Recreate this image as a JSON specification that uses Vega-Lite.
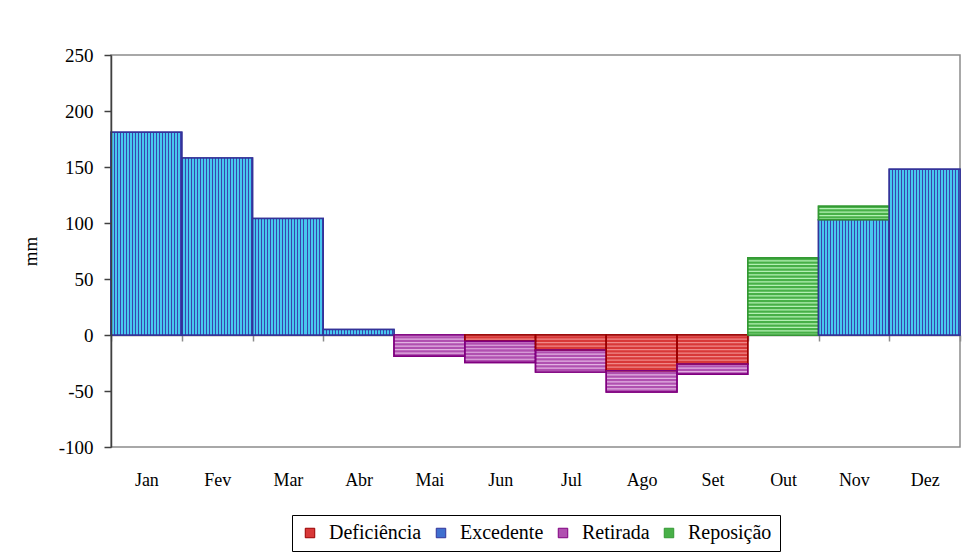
{
  "$schema": "https://vega.github.io/schema/vega-lite/v6.json",
  "width": 849,
  "height": 392,
  "autosize": {"type": "none"},
  "padding": {"left": 111, "top": 55, "right": 3, "bottom": 105},
  "background": "white",
  "config": {
    "view": {"stroke": "#8c8c8c", "strokeWidth": 1.5},
    "font": "Liberation Serif, serif",
    "axis": {"labelFont": "Liberation Serif, serif", "titleFont": "Liberation Serif, serif"},
    "legend": {"labelFont": "Liberation Serif, serif", "titleFont": "Liberation Serif, serif"},
    "text": {"font": "Liberation Serif, serif"}
  },
  "data": {
    "values": [
      {"month": "Jan", "serie": "Excedente", "value": 181},
      {"month": "Fev", "serie": "Excedente", "value": 158},
      {"month": "Mar", "serie": "Excedente", "value": 104},
      {"month": "Abr", "serie": "Excedente", "value": 5},
      {"month": "Mai", "serie": "Retirada", "value": -19},
      {"month": "Jun", "serie": "Deficiência", "value": -5.5},
      {"month": "Jun", "serie": "Retirada", "value": -19},
      {"month": "Jul", "serie": "Deficiência", "value": -13.5},
      {"month": "Jul", "serie": "Retirada", "value": -19.5},
      {"month": "Ago", "serie": "Deficiência", "value": -32},
      {"month": "Ago", "serie": "Retirada", "value": -19},
      {"month": "Set", "serie": "Deficiência", "value": -26},
      {"month": "Set", "serie": "Retirada", "value": -9},
      {"month": "Out", "serie": "Reposição", "value": 69},
      {"month": "Nov", "serie": "Excedente", "value": 103},
      {"month": "Nov", "serie": "Reposição", "value": 12},
      {"month": "Dez", "serie": "Excedente", "value": 148}
    ]
  },
  "transform": [
    {"stack": "value", "groupby": ["month"], "sort": [{"field": "serie", "order": "ascending"}], "as": ["v0", "v1"]}
  ],
  "encoding": {
    "x": {
      "field": "month",
      "type": "nominal",
      "sort": ["Jan", "Fev", "Mar", "Abr", "Mai", "Jun", "Jul", "Ago", "Set", "Out", "Nov", "Dez"],
      "scale": {"paddingInner": 0, "paddingOuter": 0},
      "axis": {
        "orient": "bottom",
        "offset": -112,
        "title": null,
        "labelAngle": 0,
        "labelFont": "Liberation Serif, serif",
        "labelFontSize": 18,
        "labelColor": "black",
        "labelPadding": 130,
        "tickBand": "extent",
        "tickSize": 6,
        "tickColor": "#8c8c8c",
        "tickWidth": 1.5,
        "domainColor": "#707070",
        "domainWidth": 1.5,
        "grid": false
      }
    },
    "y": {
      "field": "v0",
      "type": "quantitative",
      "scale": {"domain": [-100, 250], "nice": false, "zero": false},
      "axis": {
        "title": "mm",
        "titleFont": "Liberation Serif, serif",
        "titleFontSize": 19,
        "titleFontWeight": "normal",
        "titleColor": "black",
        "titlePadding": 18,
        "values": [-100, -50, 0, 50, 100, 150, 200, 250],
        "labelExpr": "'' + datum.value",
        "labelFont": "Liberation Serif, serif",
        "labelFontSize": 19,
        "labelColor": "black",
        "labelPadding": 11,
        "tickSize": 7,
        "tickColor": "#404040",
        "tickWidth": 1.5,
        "domainColor": "#404040",
        "domainWidth": 1.5,
        "grid": false,
        "zindex": 1
      }
    },
    "y2": {"field": "v1"}
  },
  "layer": [
    {
      "mark": {"type": "bar", "strokeWidth": 1.5},
      "encoding": {
        "color": {
          "field": "serie",
          "type": "nominal",
          "scale": {
            "domain": ["Deficiência", "Excedente", "Retirada", "Reposição"],
            "range": ["#d83838", "#3f6fcf", "#b050b0", "#48b048"]
          },
          "legend": {
            "title": null,
            "orient": "none",
            "legendX": 181,
            "legendY": 460,
            "direction": "horizontal",
            "strokeColor": "black",
            "fillColor": "white",
            "padding": 8,
            "symbolType": "square",
            "symbolSize": 90,
            "symbolStrokeWidth": 1,
            "symbolStrokeColor": "#404040",
            "labelFont": "Liberation Serif, serif",
            "labelFontSize": 20,
            "labelColor": "black",
            "labelOffset": 9,
            "columnPadding": 9
          }
        },
        "stroke": {
          "field": "serie",
          "type": "nominal",
          "scale": {
            "domain": ["Deficiência", "Excedente", "Retirada", "Reposição"],
            "range": ["#990000", "#333399", "#800080", "#339933"]
          },
          "legend": null
        }
      }
    },
    {
      "transform": [{"filter": "datum.serie === 'Excedente'"}],
      "mark": {
        "type": "bar",
        "fill": {
          "gradient": "linear", "x1": 0, "y1": 0, "x2": 1, "y2": 0,
          "stops": [
            {"offset": 0, "color": "#3a44b0"}, {"offset": 0.0141, "color": "#3a44b0"}, {"offset": 0.0141, "color": "#48c8ee"}, {"offset": 0.0424, "color": "#48c8ee"},
            {"offset": 0.0424, "color": "#3a44b0"}, {"offset": 0.0565, "color": "#3a44b0"}, {"offset": 0.0565, "color": "#48c8ee"}, {"offset": 0.0848, "color": "#48c8ee"},
            {"offset": 0.0848, "color": "#3a44b0"}, {"offset": 0.0989, "color": "#3a44b0"}, {"offset": 0.0989, "color": "#48c8ee"}, {"offset": 0.1272, "color": "#48c8ee"},
            {"offset": 0.1272, "color": "#3a44b0"}, {"offset": 0.1413, "color": "#3a44b0"}, {"offset": 0.1413, "color": "#48c8ee"}, {"offset": 0.1696, "color": "#48c8ee"},
            {"offset": 0.1696, "color": "#3a44b0"}, {"offset": 0.1837, "color": "#3a44b0"}, {"offset": 0.1837, "color": "#48c8ee"}, {"offset": 0.2120, "color": "#48c8ee"},
            {"offset": 0.2120, "color": "#3a44b0"}, {"offset": 0.2261, "color": "#3a44b0"}, {"offset": 0.2261, "color": "#48c8ee"}, {"offset": 0.2544, "color": "#48c8ee"},
            {"offset": 0.2544, "color": "#3a44b0"}, {"offset": 0.2685, "color": "#3a44b0"}, {"offset": 0.2685, "color": "#48c8ee"}, {"offset": 0.2968, "color": "#48c8ee"},
            {"offset": 0.2968, "color": "#3a44b0"}, {"offset": 0.3109, "color": "#3a44b0"}, {"offset": 0.3109, "color": "#48c8ee"}, {"offset": 0.3392, "color": "#48c8ee"},
            {"offset": 0.3392, "color": "#3a44b0"}, {"offset": 0.3533, "color": "#3a44b0"}, {"offset": 0.3533, "color": "#48c8ee"}, {"offset": 0.3816, "color": "#48c8ee"},
            {"offset": 0.3816, "color": "#3a44b0"}, {"offset": 0.3957, "color": "#3a44b0"}, {"offset": 0.3957, "color": "#48c8ee"}, {"offset": 0.4240, "color": "#48c8ee"},
            {"offset": 0.4240, "color": "#3a44b0"}, {"offset": 0.4381, "color": "#3a44b0"}, {"offset": 0.4381, "color": "#48c8ee"}, {"offset": 0.4664, "color": "#48c8ee"},
            {"offset": 0.4664, "color": "#3a44b0"}, {"offset": 0.4805, "color": "#3a44b0"}, {"offset": 0.4805, "color": "#48c8ee"}, {"offset": 0.5088, "color": "#48c8ee"},
            {"offset": 0.5088, "color": "#3a44b0"}, {"offset": 0.5229, "color": "#3a44b0"}, {"offset": 0.5229, "color": "#48c8ee"}, {"offset": 0.5512, "color": "#48c8ee"},
            {"offset": 0.5512, "color": "#3a44b0"}, {"offset": 0.5653, "color": "#3a44b0"}, {"offset": 0.5653, "color": "#48c8ee"}, {"offset": 0.5936, "color": "#48c8ee"},
            {"offset": 0.5936, "color": "#3a44b0"}, {"offset": 0.6077, "color": "#3a44b0"}, {"offset": 0.6077, "color": "#48c8ee"}, {"offset": 0.6360, "color": "#48c8ee"},
            {"offset": 0.6360, "color": "#3a44b0"}, {"offset": 0.6501, "color": "#3a44b0"}, {"offset": 0.6501, "color": "#48c8ee"}, {"offset": 0.6784, "color": "#48c8ee"},
            {"offset": 0.6784, "color": "#3a44b0"}, {"offset": 0.6925, "color": "#3a44b0"}, {"offset": 0.6925, "color": "#48c8ee"}, {"offset": 0.7208, "color": "#48c8ee"},
            {"offset": 0.7208, "color": "#3a44b0"}, {"offset": 0.7349, "color": "#3a44b0"}, {"offset": 0.7349, "color": "#48c8ee"}, {"offset": 0.7633, "color": "#48c8ee"},
            {"offset": 0.7633, "color": "#3a44b0"}, {"offset": 0.7774, "color": "#3a44b0"}, {"offset": 0.7774, "color": "#48c8ee"}, {"offset": 0.8057, "color": "#48c8ee"},
            {"offset": 0.8057, "color": "#3a44b0"}, {"offset": 0.8198, "color": "#3a44b0"}, {"offset": 0.8198, "color": "#48c8ee"}, {"offset": 0.8481, "color": "#48c8ee"},
            {"offset": 0.8481, "color": "#3a44b0"}, {"offset": 0.8622, "color": "#3a44b0"}, {"offset": 0.8622, "color": "#48c8ee"}, {"offset": 0.8905, "color": "#48c8ee"},
            {"offset": 0.8905, "color": "#3a44b0"}, {"offset": 0.9046, "color": "#3a44b0"}, {"offset": 0.9046, "color": "#48c8ee"}, {"offset": 0.9329, "color": "#48c8ee"},
            {"offset": 0.9329, "color": "#3a44b0"}, {"offset": 0.9470, "color": "#3a44b0"}, {"offset": 0.9470, "color": "#48c8ee"}, {"offset": 0.9753, "color": "#48c8ee"},
            {"offset": 0.9753, "color": "#3a44b0"}, {"offset": 0.9894, "color": "#3a44b0"}, {"offset": 0.9894, "color": "#48c8ee"}, {"offset": 1, "color": "#48c8ee"}
          ]
        }
      }
    },
    {
      "transform": [{"filter": "datum.serie !== 'Excedente'"}],
      "mark": {"type": "rule", "strokeWidth": 69.5, "strokeDash": [1.2, 2.3]},
      "encoding": {
        "stroke": {
          "condition": [
            {"test": "datum.serie === 'Deficiência'", "value": "#f08888"},
            {"test": "datum.serie === 'Retirada'", "value": "#e2b2e2"}
          ],
          "value": "#b4f0b4"
        }
      }
    },
    {
      "mark": {"type": "bar", "fill": "transparent", "strokeWidth": 1.5},
      "encoding": {
        "stroke": {
          "field": "serie",
          "type": "nominal",
          "scale": {
            "domain": ["Deficiência", "Excedente", "Retirada", "Reposição"],
            "range": ["#990000", "#333399", "#800080", "#339933"]
          },
          "legend": null
        }
      }
    }
  ]
}
